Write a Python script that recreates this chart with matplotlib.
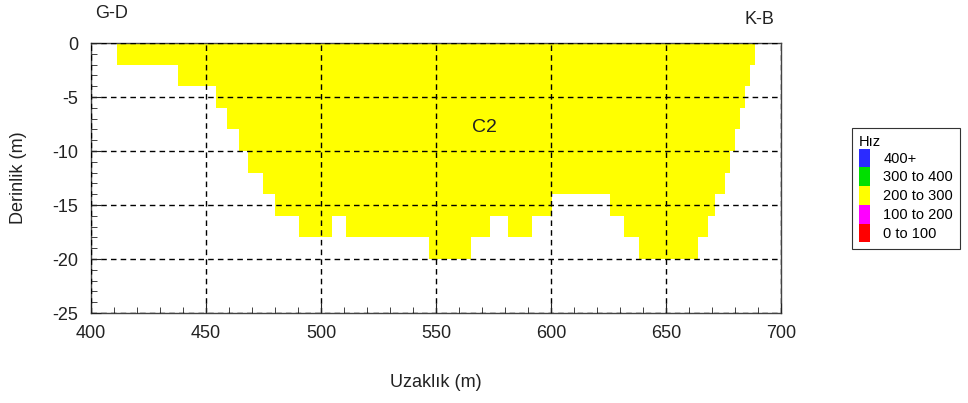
import matplotlib
matplotlib.use('Agg')
import matplotlib.pyplot as plt
from matplotlib.patches import Patch
from matplotlib.ticker import MultipleLocator

plt.rcParams['font.family'] = ['Liberation Sans', 'DejaVu Sans']
plt.rcParams['axes.unicode_minus'] = False

# stepped velocity body (x edges in m, bottom depth of each column in m)
edges = [411.2, 437.7, 454.3, 459.0, 464.5, 468.4, 474.6, 480.0, 490.6, 504.6,
         511.0, 547.0, 565.2, 573.5, 581.4, 591.6, 600.6, 625.7, 631.8, 638.2,
         664.0, 668.4, 671.3, 675.7, 677.8, 680.0, 682.2, 684.3, 686.5, 688.7]
depths = [-2, -4, -6, -8, -10, -12, -14, -16, -18, -16,
          -18, -20, -18, -16, -18, -16, -14, -16, -18, -20,
          -18, -16, -14, -12, -10, -8, -6, -4, -2]

legend_labels = ['400+', '300 to 400', '200 to 300', '100 to 200', '0 to 100']
legend_colors = ['#2b2bff', '#00e000', '#ffff00', '#ff00ff', '#ff0000']

fig = plt.figure(figsize=(9.68, 4.03), dpi=100)
ax = fig.add_axes([91 / 968, 1 - 313 / 403, 690 / 968, 270 / 403])

ax.stairs(depths, edges, baseline=0, fill=True, color='#ffff00', zorder=1)

ax.set_xlim(400, 700)
ax.set_ylim(-25, 0)
ax.xaxis.set_major_locator(MultipleLocator(50))
ax.xaxis.set_minor_locator(MultipleLocator(10))
ax.yaxis.set_major_locator(MultipleLocator(5))
ax.yaxis.set_minor_locator(MultipleLocator(1))
ax.tick_params(which='both', direction='in', top=False, right=False,
               labelsize=13, colors='#222222')
ax.tick_params(which='major', length=7, pad=9)
ax.tick_params(which='minor', length=4)
ax.grid(True, which='major', color='black', linestyle=(0, (4, 3)), linewidth=1.0, zorder=2)
ax.set_axisbelow(False)
for s in ax.spines.values():
    s.set_color('#444444')
    s.set_linewidth(1.0)

ax.set_xlabel('Uzaklık (m)', fontsize=13, color='#222222')
ax.set_ylabel('Derinlik (m)', fontsize=13, color='#222222')
ax.xaxis.set_label_coords(0.5, -0.225)
ax.yaxis.set_label_coords(-0.093, 0.5)

ax.text(571, -7.8, 'C2', fontsize=14, ha='center', va='center', color='#222222', zorder=3)
fig.text(95 / 968, 1 - 14 / 403, 'G-D', fontsize=13, ha='left', va='center', color='#222222')
fig.text(774 / 968, 1 - 19 / 403, 'K-B', fontsize=13, ha='right', va='center', color='#222222')

handles = [Patch(facecolor=c, edgecolor='none') for c in legend_colors]
leg = fig.legend(handles, legend_labels, title='Hız', loc='upper left',
                 bbox_to_anchor=(852 / 968, 1 - 128 / 403), borderaxespad=0,
                 fontsize=10.5, title_fontsize=10.5, labelspacing=0, handlelength=0.8,
                 handleheight=1.6, handletextpad=0.9, borderpad=0.45, fancybox=False,
                 edgecolor='#333333', framealpha=1, alignment='left')
leg.get_frame().set_linewidth(0.8)

fig.savefig('out.png', dpi=100)
plt.close(fig)
